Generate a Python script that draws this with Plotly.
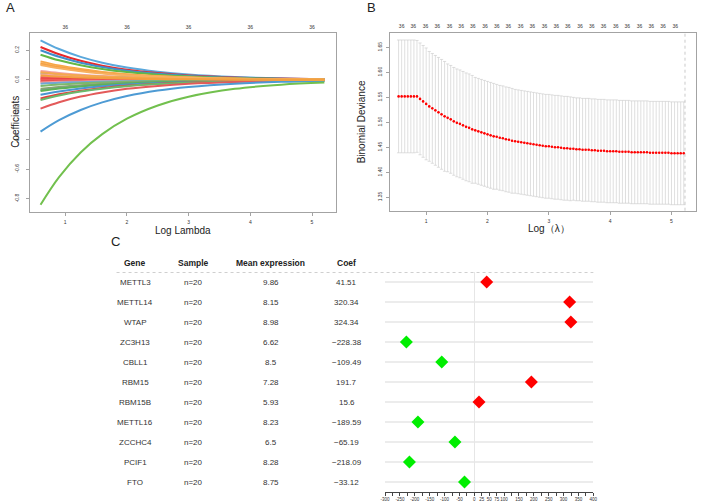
import plotly.graph_objects as go

W, H = 702, 503
FONT = "Liberation Sans, Arial, sans-serif"


def px(x):
    return x / W


def py(y):
    return 1 - y / H


# ---------------- Panel A: coefficient paths ----------------
loglam_A = [0.6, 0.9, 1.25, 1.6, 2.0, 2.5, 3.0, 3.75, 4.5, 5.2]
top_count_A_pos = [1, 2, 3, 4, 5]
top_count_A_lab = ["36", "36", "36", "36", "36"]

coef_paths = [
    [0.267, 0.208, 0.155, 0.116, 0.083, 0.055, 0.036, 0.019, 0.010, 0.006],
    [0.222, 0.173, 0.129, 0.096, 0.069, 0.046, 0.030, 0.016, 0.009, 0.005],
    [0.200, 0.156, 0.116, 0.087, 0.062, 0.041, 0.027, 0.014, 0.008, 0.004],
    [0.170, 0.132, 0.099, 0.074, 0.053, 0.035, 0.023, 0.012, 0.007, 0.004],
    [0.060, 0.047, 0.035, 0.026, 0.019, 0.012, 0.008, 0.004, 0.002, 0.001],
    [0.045, 0.035, 0.026, 0.020, 0.014, 0.009, 0.006, 0.003, 0.002, 0.001],
    [0.038, 0.030, 0.022, 0.016, 0.012, 0.008, 0.005, 0.003, 0.001, 0.001],
    [0.020, 0.016, 0.012, 0.009, 0.006, 0.004, 0.003, 0.001, 0.001, 0.000],
    [0.010, 0.008, 0.006, 0.004, 0.003, 0.002, 0.001, 0.001, 0.000, 0.000],
    [0.004, 0.003, 0.002, 0.002, 0.001, 0.001, 0.001, 0.000, 0.000, 0.000],
    [-0.004, -0.003, -0.002, -0.002, -0.001, -0.001, -0.001, 0.000, 0.000, 0.000],
    [-0.010, -0.008, -0.006, -0.004, -0.003, -0.002, -0.001, -0.001, 0.000, 0.000],
    [-0.017, -0.013, -0.010, -0.007, -0.005, -0.003, -0.002, -0.001, -0.001, 0.000],
    [-0.025, -0.019, -0.015, -0.011, -0.008, -0.005, -0.003, -0.002, -0.001, -0.001],
    [-0.040, -0.031, -0.023, -0.017, -0.012, -0.008, -0.005, -0.003, -0.002, -0.001],
    [-0.060, -0.047, -0.035, -0.026, -0.019, -0.012, -0.008, -0.004, -0.002, -0.001],
    [-0.068, -0.053, -0.040, -0.030, -0.021, -0.014, -0.009, -0.005, -0.003, -0.001],
    [-0.075, -0.058, -0.044, -0.033, -0.023, -0.015, -0.010, -0.005, -0.003, -0.002],
    [-0.100, -0.078, -0.058, -0.043, -0.031, -0.021, -0.014, -0.007, -0.004, -0.002],
    [-0.125, -0.097, -0.073, -0.054, -0.039, -0.026, -0.017, -0.009, -0.005, -0.003],
    [-0.135, -0.105, -0.078, -0.059, -0.042, -0.028, -0.018, -0.010, -0.005, -0.003],
    [-0.193, -0.150, -0.112, -0.084, -0.060, -0.040, -0.026, -0.014, -0.007, -0.004],
    [-0.348, -0.271, -0.202, -0.151, -0.108, -0.071, -0.047, -0.025, -0.013, -0.007],
    [-0.840, -0.654, -0.488, -0.365, -0.261, -0.172, -0.113, -0.060, -0.032, -0.018],
    [0.125, 0.097, 0.073, 0.054, 0.039, 0.026, 0.017, 0.009, 0.005, 0.003],
    [0.115, 0.089, 0.067, 0.050, 0.036, 0.024, 0.016, 0.008, 0.004, 0.002],
    [0.108, 0.084, 0.063, 0.047, 0.034, 0.022, 0.015, 0.008, 0.004, 0.002],
    [0.100, 0.078, 0.058, 0.043, 0.031, 0.021, 0.014, 0.007, 0.004, 0.002],
    [0.052, 0.040, 0.030, 0.023, 0.016, 0.011, 0.007, 0.004, 0.002, 0.001],
    [0.030, 0.023, 0.017, 0.013, 0.009, 0.006, 0.004, 0.002, 0.001, 0.001],
]
path_colors = [
    "#5AA8DC", "#E8282B", "#3F8FCB", "#63B845",
    "#F2A3A3", "#6BB08F", "#F4A9A6", "#EE6A6A",
    "#E83A3A", "#EF5350", "#F06262", "#E84848",
    "#F29C9C", "#6FA8D6", "#7DB96A", "#8AA86A",
    "#7E9F8C", "#5DB355", "#4A96D0", "#E23F3F",
    "#6BB86B", "#E35A5A", "#4E9BD4", "#72C04E",
    "#F6A647", "#F8AE55", "#F49E3E", "#F7B060",
    "#F5A84E", "#F3A040",
]

# ---------------- Panel B: cross-validation curve ----------------
loglam_B = [0.55, 0.60, 0.65, 0.70, 0.75, 0.80, 0.85, 0.90, 0.95, 1.00,
            1.05, 1.10, 1.15, 1.20, 1.25, 1.30, 1.35, 1.40, 1.45, 1.50,
            1.55, 1.60, 1.65, 1.70, 1.75, 1.80, 1.85, 1.90, 1.95, 2.00,
            2.05, 2.10, 2.15, 2.20, 2.25, 2.30, 2.35, 2.40, 2.45, 2.50,
            2.55, 2.60, 2.65, 2.70, 2.75, 2.80, 2.85, 2.90, 2.95, 3.00,
            3.05, 3.10, 3.15, 3.20, 3.25, 3.30, 3.35, 3.40, 3.45, 3.50,
            3.55, 3.60, 3.65, 3.70, 3.75, 3.80, 3.85, 3.90, 3.95, 4.00,
            4.05, 4.10, 4.15, 4.20, 4.25, 4.30, 4.35, 4.40, 4.45, 4.50,
            4.55, 4.60, 4.65, 4.70, 4.75, 4.80, 4.85, 4.90, 4.95, 5.00,
            5.05, 5.10, 5.15, 5.20]
cv_mean = [1.552, 1.552, 1.552, 1.552, 1.552, 1.552,
           1.552, 1.547, 1.542, 1.537, 1.532, 1.528, 1.524, 1.520, 1.516, 1.512,
           1.509, 1.506, 1.502, 1.499, 1.497, 1.494, 1.491, 1.489, 1.486, 1.484,
           1.482, 1.480, 1.478, 1.476, 1.474, 1.472, 1.471, 1.469, 1.468, 1.466,
           1.465, 1.463, 1.462, 1.461, 1.460, 1.459, 1.458, 1.457, 1.456, 1.455,
           1.454, 1.453, 1.452, 1.452, 1.451, 1.450, 1.450, 1.449, 1.448, 1.448,
           1.447, 1.447, 1.446, 1.446, 1.445, 1.445, 1.445, 1.444, 1.444, 1.443,
           1.443, 1.443, 1.442, 1.442, 1.442, 1.442, 1.441, 1.441, 1.441, 1.441,
           1.440, 1.440, 1.440, 1.440, 1.440, 1.440, 1.439, 1.439, 1.439, 1.439,
           1.439, 1.439, 1.439, 1.438, 1.438, 1.438, 1.438, 1.438]
cv_sd = [0.113, 0.113, 0.113, 0.113, 0.113, 0.113,
         0.112, 0.112, 0.112, 0.112, 0.110, 0.110, 0.110, 0.110, 0.110, 0.110,
         0.108, 0.108, 0.108, 0.108, 0.108, 0.108, 0.108, 0.108, 0.108, 0.106,
         0.106, 0.106, 0.106, 0.106, 0.106, 0.106, 0.105, 0.105, 0.105, 0.105,
         0.105, 0.105, 0.104, 0.104, 0.104, 0.104, 0.104, 0.104, 0.104, 0.104,
         0.104, 0.104, 0.104, 0.104, 0.104, 0.104, 0.104, 0.104, 0.104, 0.104,
         0.104, 0.103, 0.103, 0.103, 0.103, 0.103, 0.103, 0.103, 0.103, 0.103,
         0.103, 0.103, 0.103, 0.103, 0.103, 0.103, 0.103, 0.103, 0.103, 0.103,
         0.103, 0.103, 0.103, 0.103, 0.103, 0.103, 0.103, 0.103, 0.103, 0.103,
         0.103, 0.103, 0.103, 0.103, 0.103, 0.103, 0.103, 0.103]
lambda_min = 5.22
top_count_B_pos = [0.60, 0.79, 0.99, 1.18, 1.38, 1.57, 1.76, 1.96, 2.15, 2.34,
                   2.54, 2.73, 2.93, 3.12, 3.31, 3.51, 3.70, 3.89, 4.09, 4.28,
                   4.48, 4.67, 4.86, 5.06]
top_count_B_lab = ["36"] * 24

# ---------------- Panel C: table + forest ----------------
genes = ["METTL3", "METTL14", "WTAP", "ZC3H13", "CBLL1", "RBM15", "RBM15B",
         "METTL16", "ZCCHC4", "PCIF1", "FTO"]
samples = ["n=20", "n=20", "n=20", "n=20", "n=20", "n=20", "n=20", "n=20",
           "n=20", "n=20", "n=20"]
mean_expr = ["9.86", "8.15", "8.98", "6.62", "8.5", "7.28", "5.93", "8.23",
             "6.5", "8.28", "8.75"]
coefs = [41.51, 320.34, 324.34, -228.38, -109.49, 191.7, 15.6, -189.59,
         -65.19, -218.09, -33.12]
headers = ["Gene", "Sample", "Mean expression", "Coef"]
forest_tickvals = [-300, -275, -250, -225, -200, -175, -150, -125, -100, -75,
                   -50, -25, 0, 25, 50, 75, 100, 125, 150, 175, 200, 225, 250,
                   275, 300, 325, 350, 375, 400]
forest_labeled = [-300, -250, -200, -150, -100, -50, 0, 25, 50, 75, 100, 150,
                  200, 250, 300, 350, 400]

fig = go.Figure()

# Panel A traces (orange drawn last, on top)
for vals, col in zip(coef_paths, path_colors):
    fig.add_trace(go.Scatter(x=loglam_A, y=vals, mode="lines",
                             line=dict(color=col, width=2, shape="spline", smoothing=1.0),
                             xaxis="x", yaxis="y", hoverinfo="skip"))
fig.add_trace(go.Scatter(x=top_count_A_pos, y=[0] * len(top_count_A_pos), mode="markers",
                         marker=dict(opacity=0), xaxis="x2", yaxis="y", hoverinfo="skip"))

# Panel B traces
fig.add_trace(go.Scatter(x=loglam_B, y=cv_mean, mode="markers",
                         marker=dict(color="#FF0000", size=2.6),
                         error_y=dict(type="data", array=cv_sd, symmetric=True,
                                      color="#C9C9C9", thickness=0.6, width=1.6),
                         xaxis="x3", yaxis="y3", hoverinfo="skip"))
fig.add_trace(go.Scatter(x=top_count_B_pos, y=[1.5] * len(top_count_B_pos), mode="markers",
                         marker=dict(opacity=0), xaxis="x4", yaxis="y3", hoverinfo="skip"))

# Panel C forest
rows_y = list(range(len(genes) - 1, -1, -1))
marker_cols = ["#FF0000" if c > 0 else "#00EE00" for c in coefs]
fig.add_trace(go.Scatter(x=coefs, y=rows_y, mode="markers",
                         marker=dict(symbol="diamond", size=10, color=marker_cols),
                         xaxis="x5", yaxis="y5", hoverinfo="skip"))

tickfont = dict(family=FONT, size=5, color="#333333")
box = dict(showline=True, mirror=True, linecolor="#A3A3A3", linewidth=1,
           showgrid=False, zeroline=False, ticks="outside", ticklen=3,
           tickcolor="#A3A3A3", tickfont=tickfont)

layout = dict(
    width=W, height=H, margin=dict(l=0, r=0, t=0, b=0),
    paper_bgcolor="white", plot_bgcolor="rgba(0,0,0,0)", showlegend=False,
    font=dict(family=FONT),
    xaxis=dict(domain=[px(25), px(335)], range=[0.424, 5.384], anchor="y",
               tickvals=[1, 2, 3, 4, 5], ticklabelstandoff=2, **box),
    xaxis2=dict(domain=[px(25), px(335)], range=[0.424, 5.384], anchor="y",
                overlaying="x", side="top", tickvals=top_count_A_pos,
                ticktext=top_count_A_lab, ticks="", showline=False, showgrid=False,
                zeroline=False, tickfont=tickfont, ticklabelstandoff=2),
    yaxis=dict(domain=[py(212), py(33)], range=[-0.889, 0.316], anchor="x",
               tickvals=[-0.8, -0.6, -0.4, -0.2, 0.0, 0.2],
               ticktext=["-0.8", "-0.6", "-0.4", "-0.2", "0.0", "0.2"],
               tickangle=-90, ticklabelstandoff=5, **box),
    xaxis3=dict(domain=[px(390), px(700)], range=[0.41, 5.4], anchor="y3",
                tickvals=[1, 2, 3, 4, 5], ticklabelstandoff=2, **box),
    xaxis4=dict(domain=[px(390), px(700)], range=[0.41, 5.4], anchor="y3",
                overlaying="x3", side="top", tickvals=top_count_B_pos,
                ticktext=top_count_B_lab, ticks="", showline=False, showgrid=False,
                zeroline=False, tickfont=tickfont, ticklabelstandoff=3),
    yaxis3=dict(domain=[py(210.7), py(33)], range=[1.323, 1.679], anchor="x3",
                tickvals=[1.35, 1.40, 1.45, 1.50, 1.55, 1.60, 1.65],
                ticktext=["1.35", "1.40", "1.45", "1.50", "1.55", "1.60", "1.65"],
                tickangle=-90, ticklabelstandoff=2, **box),
    xaxis5=dict(domain=[px(385), px(596)], range=[-300, 400], anchor="y5",
                tickvals=forest_tickvals, tickangle=0,
                ticktext=[str(v) if v in forest_labeled else "" for v in forest_tickvals],
                showline=True, linecolor="#444444", linewidth=1, ticks="outside",
                ticklen=3, tickcolor="#444444",
                tickfont=dict(family=FONT, size=4.5, color="#333333"),
                showgrid=False, zeroline=True, zerolinecolor="#E6E6E6", zerolinewidth=1),
    yaxis5=dict(domain=[py(492), py(272)], range=[-0.5, 10.5], anchor="x5",
                tickvals=rows_y, showticklabels=False, ticks="", showgrid=True,
                gridcolor="#ECECEC", gridwidth=1.5, zeroline=False, showline=False),
)
fig.update_layout(**layout)


def label(text, x, y, size, angle=0, color="#222"):
    return dict(text=text, x=px(x), y=py(y), xref="paper", yref="paper",
                xanchor="center", yanchor="middle", showarrow=False,
                textangle=angle, font=dict(size=size, color=color))


ann = [
    label("A", 6, 8, 13),
    label("B", 371, 8, 13),
    label("C", 112, 241, 13),
    label("Coefficients", 10, 122, 10, -90),
    label("Log Lambda", 180, 230, 10),
    label("Binomial Deviance", 361, 122, 10, -90),
    label("Log（λ）", 551, 229, 10),
]

# table
col_x = [132, 191, 269, 346]
for cx, h in zip(col_x, headers):
    ann.append(label("<b>%s</b>" % h, cx, 263, 8.5))
for i, yv in enumerate(rows_y):
    cells = [genes[i], samples[i], mean_expr[i],
             ("%g" % coefs[i]).replace("-", "−")]
    for cx, t in zip(col_x, cells):
        ann.append(dict(text=t, x=px(cx), y=yv, xref="paper", yref="y5",
                        xanchor="center", yanchor="middle", showarrow=False,
                        font=dict(size=8, color="#333")))
fig.update_layout(annotations=ann)

fig.add_shape(type="line", xref="paper", yref="y5", x0=px(113), x1=px(596),
              y0=10.5, y1=10.5, line=dict(color="#A0A0A0", width=1, dash="dot"))
fig.add_shape(type="line", xref="x3", yref="y3 domain", x0=lambda_min, x1=lambda_min,
              y0=0, y1=1, line=dict(color="#BDBDBD", width=0.8, dash="dot"))

fig.write_html("out.html")
